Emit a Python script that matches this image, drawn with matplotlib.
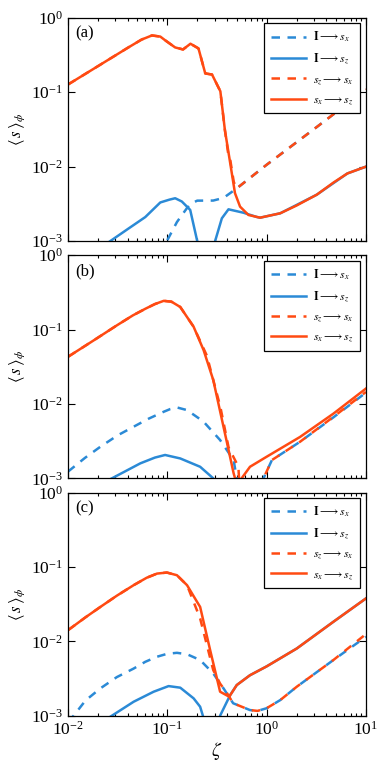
import matplotlib
matplotlib.use("Agg")
import matplotlib.pyplot as plt
from matplotlib.ticker import LogLocator, NullLocator

plt.rcParams['font.family'] = ['Liberation Serif', 'DejaVu Serif']
plt.rcParams['mathtext.fontset'] = 'stix'

# ---------------- datos ----------------
etiquetas_panel = ['(a)', '(b)', '(c)']

# panel (a)
a_x_Isx = [0.08, 0.099, 0.125, 0.157, 0.175, 0.2, 0.29, 0.368, 0.5, 1.0, 1.32, 3.16, 10]
a_y_Isx = [4e-4, 1e-3, 0.0018, 0.00275, 0.0032, 0.00349, 0.0035, 0.0038, 0.0051, 0.0106, 0.014, 0.0337, 0.109]
a_x_Isz = [0.01, 0.0267, 0.04, 0.06, 0.085, 0.105, 0.12, 0.14, 0.17, 0.2, 0.21, 0.295, 0.303, 0.354, 0.413, 0.585, 0.8, 0.86, 1.37, 3.2, 6.5, 10]
a_y_Isz = [4e-4, 1e-3, 0.00145, 0.0021, 0.0033, 0.0036, 0.00376, 0.0034, 0.00262, 1e-3, 2e-4, 2e-4, 1e-3, 0.00202, 0.00267, 0.0024, 0.0021, 0.00206, 0.00236, 0.0042, 0.0081, 0.01]
a_x_szsx = [0.01, 0.02, 0.04, 0.055, 0.07, 0.085, 0.095, 0.12, 0.144, 0.171, 0.206, 0.241, 0.282, 0.342, 0.38, 0.414, 0.43, 0.466, 0.49, 0.5, 1.0, 1.32, 3.16, 10]
a_y_szsx = [0.127, 0.224, 0.396, 0.51, 0.58, 0.56, 0.50, 0.40, 0.376, 0.449, 0.388, 0.179, 0.173, 0.103, 0.031, 0.0137, 0.0124, 0.0063, 0.0052, 0.0051, 0.0106, 0.014, 0.0337, 0.109]
a_x_sxsz = [0.01, 0.02, 0.04, 0.055, 0.07, 0.085, 0.095, 0.12, 0.144, 0.171, 0.206, 0.241, 0.282, 0.342, 0.38, 0.43, 0.48, 0.54, 0.656, 0.86, 1.37, 2.0, 3.2, 4.7, 6.5, 10]
a_y_sxsz = [0.127, 0.224, 0.396, 0.51, 0.58, 0.56, 0.50, 0.40, 0.376, 0.449, 0.388, 0.179, 0.173, 0.103, 0.031, 0.0111, 0.0044, 0.0029, 0.00224, 0.00206, 0.00236, 0.003, 0.0042, 0.0061, 0.0081, 0.01]

# panel (b)
b_x_Isx = [0.01, 0.0148, 0.0212, 0.0316, 0.0458, 0.0646, 0.092, 0.107, 0.125, 0.158, 0.231, 0.34, 0.465, 0.5, 0.55, 0.9, 0.93, 1.13, 2.17, 4.7, 10]
b_y_Isx = [0.00123, 0.00188, 0.00266, 0.00378, 0.00494, 0.00632, 0.00785, 0.00853, 0.00897, 0.00826, 0.0058, 0.00327, 0.00176, 1e-3, 3e-4, 3e-4, 1e-3, 0.00176, 0.0031, 0.0066, 0.0142]
b_x_Isz = [0.01, 0.0277, 0.0535, 0.075, 0.095, 0.135, 0.214, 0.29, 0.31]
b_y_Isz = [4.9e-4, 1e-3, 0.00159, 0.0019, 0.00206, 0.00185, 0.00143, 1e-3, 3e-4]
b_x_szsx = [0.01, 0.018, 0.0311, 0.045, 0.06, 0.075, 0.092, 0.11, 0.135, 0.184, 0.25, 0.342, 0.414, 0.52, 0.55, 0.9, 0.93, 1.13, 2.17, 4.7, 10]
b_y_szsx = [0.043, 0.071, 0.114, 0.155, 0.19, 0.22, 0.243, 0.237, 0.201, 0.109, 0.0446, 0.0091, 0.0026, 0.00143, 3e-4, 3e-4, 1e-3, 0.00176, 0.0031, 0.0067, 0.0145]
b_x_sxsz = [0.01, 0.018, 0.0311, 0.045, 0.06, 0.075, 0.092, 0.11, 0.135, 0.184, 0.232, 0.29, 0.414, 0.465, 0.52, 0.56, 0.68, 1.0, 2.17, 4.7, 10]
b_y_sxsz = [0.043, 0.071, 0.114, 0.155, 0.19, 0.22, 0.243, 0.237, 0.201, 0.109, 0.0528, 0.021, 0.0024, 0.00117, 7e-4, 1e-3, 0.00143, 0.00195, 0.0036, 0.0074, 0.0161]

# panel (c)
c_x_Isx = [0.01, 0.0114, 0.015, 0.0212, 0.031, 0.0458, 0.06, 0.0787, 0.1, 0.125, 0.158, 0.214, 0.29, 0.368, 0.46, 0.68, 0.81, 1.0, 1.37, 2.01, 4.7, 10]
c_y_Isx = [8.3e-4, 1e-3, 0.0016, 0.00233, 0.0033, 0.0043, 0.0053, 0.0062, 0.0068, 0.0070, 0.0067, 0.0056, 0.0037, 0.00233, 0.00147, 0.00119, 0.00116, 0.00126, 0.00162, 0.00245, 0.0056, 0.0115]
c_x_Isz = [0.01, 0.0277, 0.0458, 0.0728, 0.103, 0.135, 0.184, 0.214, 0.228, 0.24, 0.33, 0.34, 0.43, 0.5, 0.68, 1.0, 2.01, 4.7, 10]
c_y_Isz = [4.2e-4, 1e-3, 0.00154, 0.0021, 0.0025, 0.00238, 0.00171, 0.00132, 1e-3, 2e-4, 2e-4, 1e-3, 0.0019, 0.00258, 0.0035, 0.0046, 0.008, 0.0183, 0.0377]
c_x_szsx = [0.01, 0.015, 0.0212, 0.031, 0.0458, 0.062, 0.0787, 0.099, 0.125, 0.158, 0.214, 0.29, 0.34, 0.40, 0.46, 0.68, 0.81, 1.0, 1.37, 2.01, 4.7, 10]
c_y_szsx = [0.0141, 0.021, 0.029, 0.041, 0.0568, 0.0715, 0.0813, 0.084, 0.0773, 0.0568, 0.0203, 0.0041, 0.0027, 0.002, 0.00147, 0.00119, 0.00116, 0.00126, 0.00162, 0.00245, 0.0056, 0.0125]
c_x_sxsz = [0.01, 0.015, 0.0212, 0.031, 0.0458, 0.062, 0.0787, 0.099, 0.125, 0.158, 0.199, 0.214, 0.27, 0.34, 0.42, 0.5, 0.68, 1.0, 2.01, 4.7, 10]
c_y_sxsz = [0.0141, 0.021, 0.029, 0.041, 0.0568, 0.0715, 0.0813, 0.084, 0.0773, 0.0568, 0.034, 0.029, 0.0076, 0.0021, 0.0018, 0.00258, 0.0035, 0.0046, 0.008, 0.0183, 0.0377]

paneles = [
    (a_x_Isx, a_y_Isx, a_x_Isz, a_y_Isz, a_x_szsx, a_y_szsx, a_x_sxsz, a_y_sxsz),
    (b_x_Isx, b_y_Isx, b_x_Isz, b_y_Isz, b_x_szsx, b_y_szsx, b_x_sxsz, b_y_sxsz),
    (c_x_Isx, c_y_Isx, c_x_Isz, c_y_Isz, c_x_szsx, c_y_szsx, c_x_sxsz, c_y_sxsz),
]

azul = '#2b8ad6'
naranja = '#ff4a12'
guiones = (3.4, 3.0)

fig = plt.figure(figsize=(3.82, 7.63), dpi=100)
bases = [0.6841, 0.3731, 0.0620]

for i, datos in enumerate(paneles):
    ax = fig.add_axes([0.178, bases[i], 0.780, 0.2925])
    x1, y1, x2, y2, x3, y3, x4, y4 = datos

    ax.plot(x1, y1, color=azul, lw=1.8, dashes=guiones, label=r'$\mathbf{I}\longrightarrow s_x$')
    ax.plot(x2, y2, color=azul, lw=1.8, label=r'$\mathbf{I}\longrightarrow s_z$')
    ax.plot(x3, y3, color=naranja, lw=1.8, dashes=guiones, label=r'$s_z\longrightarrow s_x$')
    ax.plot(x4, y4, color=naranja, lw=1.8, label=r'$s_x\longrightarrow s_z$')

    ax.set_xscale('log')
    ax.set_yscale('log')
    ax.set_xlim(1e-2, 1e1)
    ax.set_ylim(1e-3, 1e0)
    ax.yaxis.set_minor_locator(NullLocator())
    ax.xaxis.set_minor_locator(LogLocator(base=10, subs=range(2, 10), numticks=20))

    ax.tick_params(which='both', direction='in', top=True, right=True, labelsize=12.5)
    ax.tick_params(which='major', length=5, width=0.8)
    ax.tick_params(which='minor', length=2.5, width=0.8)
    for lado in ax.spines.values():
        lado.set_linewidth(0.9)

    ax.set_ylabel(r'$\langle\, s\, \rangle_\phi$', fontsize=12, labelpad=3)
    ax.text(0.025, 0.965, etiquetas_panel[i], transform=ax.transAxes,
            fontsize=12, ha='left', va='top')

    if i < 2:
        ax.tick_params(labelbottom=False)
    else:
        ax.set_xlabel(r'$\zeta$', fontsize=14, labelpad=1)

    leg = ax.legend(loc='upper right', bbox_to_anchor=(0.98, 0.975), borderaxespad=0,
                    fontsize=8.5, fancybox=False, framealpha=1, edgecolor='black',
                    handlelength=3.0, handletextpad=0.6, labelspacing=0.6, borderpad=0.55)
    leg.get_frame().set_linewidth(0.9)

fig.savefig('out.png', dpi=100)
